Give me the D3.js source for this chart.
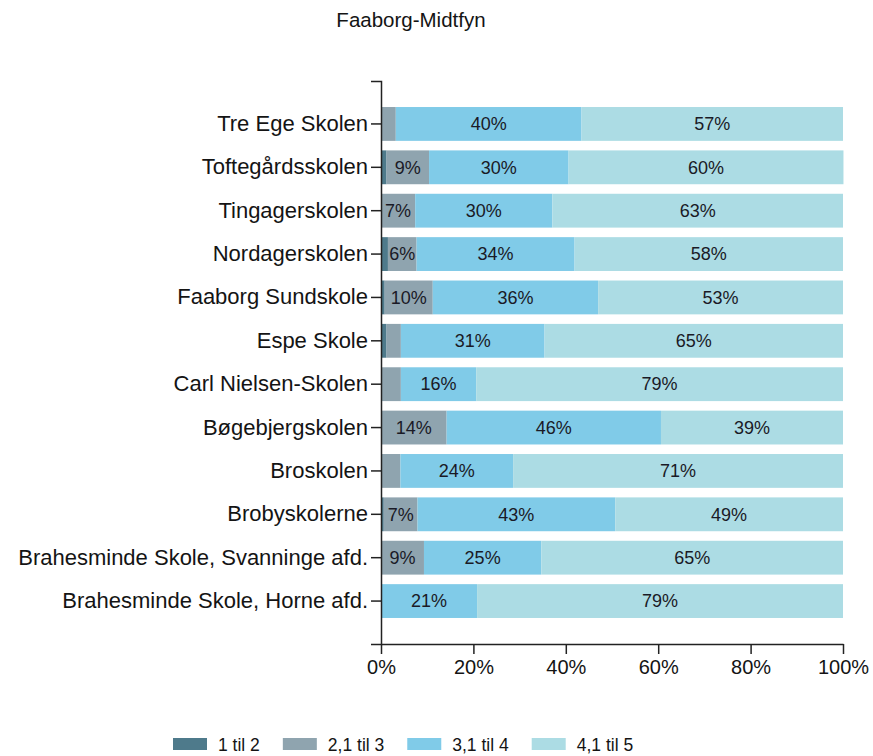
<!DOCTYPE html>
<html>
<head>
<meta charset="utf-8">
<script src="https://cdn.jsdelivr.net/npm/d3@7"></script>
<style>
  body { margin: 0; background: #fff; }
  svg { display: block; font-family: 'Liberation Sans', Arial, sans-serif; }
</style>
</head>
<body>
<svg id="chart" width="873" height="756"></svg>
<script>
// data, top to bottom
const schools = [
  'Tre Ege Skolen', 'Toftegårdsskolen', 'Tingagerskolen', 'Nordagerskolen',
  'Faaborg Sundskole', 'Espe Skole', 'Carl Nielsen-Skolen', 'Bøgebjergskolen',
  'Broskolen', 'Brobyskolerne', 'Brahesminde Skole, Svanninge afd.',
  'Brahesminde Skole, Horne afd.'
];
const seriesNames = ['1 til 2', '2,1 til 3', '3,1 til 4', '4,1 til 5'];
const s1 = [0, 1.2, 0, 1.5, 0.8, 1.2, 0, 0, 0, 0.6, 0, 0];
const s2 = [3.2, 9.2, 7.4, 6.2, 10.4, 3.1, 4.3, 14.2, 4.2, 7.3, 9.3, 0];
const s3 = [40.2, 30.2, 29.7, 34.2, 35.8, 31.1, 16.3, 46.4, 24.4, 42.8, 25.4, 20.8];
const s4 = [56.6, 59.5, 62.9, 58.1, 53.0, 64.6, 79.4, 39.4, 71.4, 49.3, 65.3, 79.2];
const xTicks = [0, 20, 40, 60, 80, 100];
const colors = ['#4e7a8b', '#8fa4af', '#80cbe8', '#acdce4'];

(function() {
    const svg = d3.select('#chart');
    const series = [s1, s2, s3, s4];

    const x = d3.scaleLinear().domain([0, 100]).range([381, 843]);
    const y = d3.scaleBand().domain(schools).range([81, 644])
        .paddingInner(0.22).paddingOuter(0.6);

    // title
    svg.append('text')
        .attr('x', 411).attr('y', 27)
        .attr('text-anchor', 'middle')
        .style('font-size', '20.5px').style('fill', '#141414')
        .text('Faaborg-Midtfyn');

    // stacked rows
    const rows = schools.map((s, i) => {
        let acc = 0;
        return series.map((arr, k) => {
            const seg = { school: s, k, x0: acc, x1: acc + arr[i], v: arr[i] };
            acc += arr[i];
            return seg;
        });
    }).flat();

    svg.append('g').selectAll('rect')
        .data(rows.filter(d => d.v > 0))
        .join('rect')
        .attr('x', d => x(d.x0))
        .attr('y', d => y(d.school))
        .attr('width', d => x(d.x1) - x(d.x0))
        .attr('height', y.bandwidth())
        .attr('fill', d => colors[d.k]);

    svg.append('g').selectAll('text')
        .data(rows.filter(d => d.v >= 5))
        .join('text')
        .attr('x', d => (x(d.x0) + x(d.x1)) / 2)
        .attr('y', d => y(d.school) + y.bandwidth() / 2)
        .attr('dy', '0.35em')
        .attr('text-anchor', 'middle')
        .style('font-size', '18px').style('fill', '#1a1a26')
        .text(d => Math.round(d.v) + '%');

    // axes
    const yAxis = svg.append('g')
        .attr('transform', 'translate(381,0)')
        .call(d3.axisLeft(y).tickSize(10).tickSizeOuter(10).tickPadding(3));
    yAxis.selectAll('text').style('font-size', '22px').style('fill', '#141414');
    yAxis.selectAll('path, line').attr('stroke', '#222').attr('stroke-width', 1.5);

    const xAxis = svg.append('g')
        .attr('transform', 'translate(0,644)')
        .call(d3.axisBottom(x).tickValues(xTicks).tickSize(10).tickSizeOuter(0)
            .tickPadding(6).tickFormat(d => d + '%'));
    xAxis.selectAll('text').style('font-size', '20px').style('fill', '#141414');
    xAxis.selectAll('path, line').attr('stroke', '#222').attr('stroke-width', 1.5);

    // legend
    const legend = svg.append('g');
    let lx = 173;
    seriesNames.forEach((name, i) => {
        legend.append('rect')
            .attr('x', lx).attr('y', 738)
            .attr('width', 34).attr('height', 12)
            .attr('fill', colors[i]);
        const t = legend.append('text')
            .attr('x', lx + 45).attr('y', 751)
            .style('font-size', '17.5px').style('fill', '#141414')
            .text(name);
        lx += 45 + t.node().getComputedTextLength() + 23;
    });
})();
</script>
</body>
</html>
